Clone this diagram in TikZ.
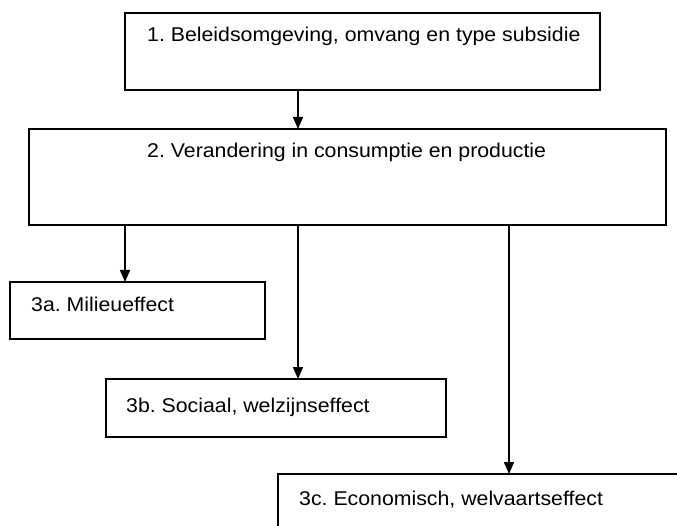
\documentclass[tikz,border=0pt]{standalone}
\usepackage{fontspec}
\setmainfont{Liberation Sans}[FakeStretch=1.07]
\usetikzlibrary{arrows.meta}
\frenchspacing
\begin{document}
\begin{tikzpicture}[x=1pt,y=-1pt,
  box/.style={draw=black, line width=1.8pt, anchor=north west, inner sep=0pt, outer sep=0pt},
  lbl/.style={anchor=base west, inner sep=0pt, font=\fontsize{19.9}{23}\selectfont},
  arr/.style={line width=1.5pt, -{Triangle[length=12pt,width=10pt]}}]
\clip (0,0) rectangle (677,526);
\fill[white] (0,0) rectangle (677,526);

% boxes
\node[box, minimum width=475pt, minimum height=77pt] (b1) at (125,13) {};
\node[box, minimum width=637pt, minimum height=96pt] (b2) at (29,129) {};
\node[box, minimum width=255pt, minimum height=57pt] (b3a) at (10,282) {};
\node[box, minimum width=340pt, minimum height=58pt] (b3b) at (106,379) {};
\node[box, minimum width=420pt, minimum height=80pt] (b3c) at (278,474) {};

% labels
\node[lbl] (t1) at (147,42) {1. Beleidsomgeving, omvang en type subsidie};
\node[lbl] (t2) at (147,158) {2. Verandering in consumptie en productie};
\node[lbl] (t3a) at (31,312) {3a. Milieueffect};
\node[lbl] (t3b) at (126,412) {3b. Sociaal, welzijnseffect};
\node[lbl] (t3c) at (299,505) {3c. Economisch, welvaartseffect};

% connectors
\draw[arr] (298,0 |- b1.south) -- (298,0 |- b2.north);
\draw[arr] (125,0 |- b2.south) -- (125,0 |- b3a.north);
\draw[arr] (298,0 |- b2.south) -- (298,0 |- b3b.north);
\draw[arr] (509,0 |- b2.south) -- (509,0 |- b3c.north);
\end{tikzpicture}
\end{document}
